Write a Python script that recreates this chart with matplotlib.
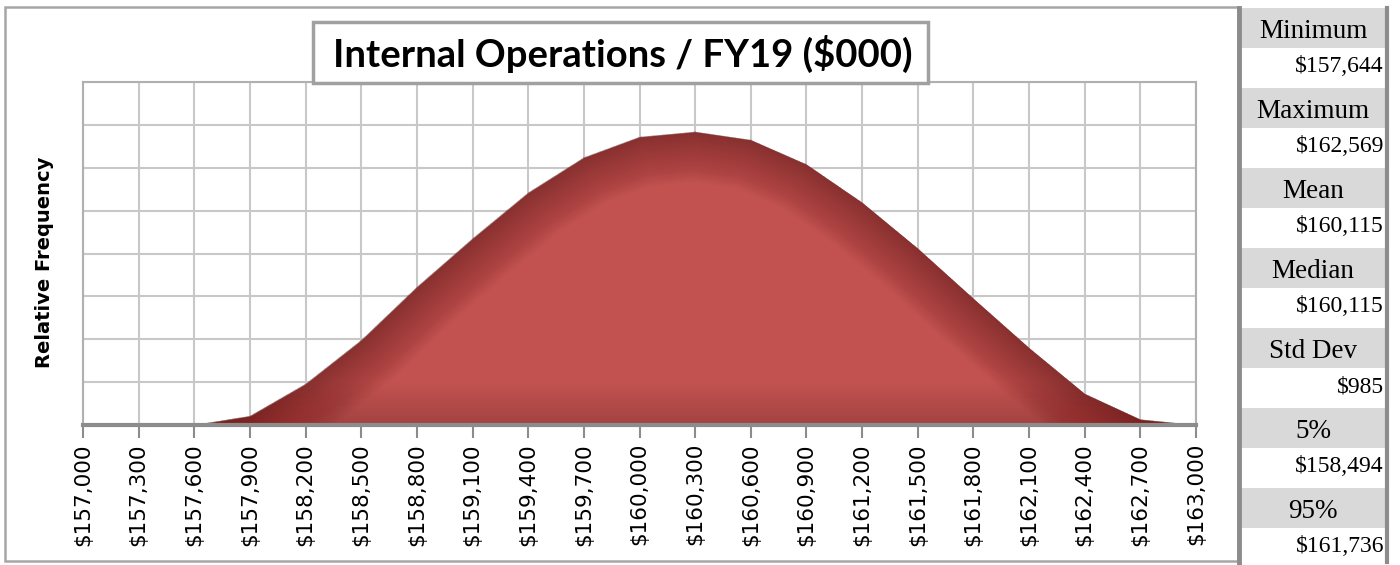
import numpy as np
import matplotlib
matplotlib.use("Agg")
import matplotlib.pyplot as plt
from matplotlib.patches import Rectangle, PathPatch
from matplotlib.path import Path

# data
bins = [157000, 157300, 157600, 157900, 158200, 158500, 158800, 159100, 159400, 159700, 160000,
        160300, 160600, 160900, 161200, 161500, 161800, 162100, 162400, 162700, 163000]
freq = [0, 0, 0, 0.21, 0.96, 1.98, 3.22, 4.35, 5.42, 6.24, 6.72,
        6.84, 6.65, 6.08, 5.19, 4.12, 2.95, 1.80, 0.73, 0.13, 0]

stat_names = ["Minimum", "Maximum", "Mean", "Median", "Std Dev", "5%", "95%"]
stat_values = ["$157,644", "$162,569", "$160,115", "$160,115", "$985", "$158,494", "$161,736"]

title = "Internal Operations / FY19 ($000)"

W, H = 1400, 565
fig = plt.figure(figsize=(14, 5.65), dpi=100)

def fx(x):
    return x / W

def fy(y):
    return 1 - y / H

ax = fig.add_axes([fx(83), fy(425), fx(1196) - fx(83), fy(82) - fy(425)])

x = np.array(bins, dtype=float)
y = np.array(freq)

ax.fill_between(x, 0, y, color="#c25250", lw=0, zorder=2)

# darker edges, like the excel shading (stacked wide strokes clipped to the area)
verts = list(zip(x, y)) + [(x[-1], 0), (x[0], 0), (x[0], y[0])]
clip = PathPatch(Path(verts), transform=ax.transData, facecolor="none", edgecolor="none")
ax.add_patch(clip)
for lw in np.linspace(2, 72, 26):
    ln, = ax.plot(x, y, color="#4a1010", lw=lw, alpha=0.021, zorder=3, solid_joinstyle="round")
    ln.set_clip_path(clip)
for lw in np.linspace(2, 60, 16):
    ln, = ax.plot([x[0], x[-1]], [0, 0], color="#4a1010", lw=lw, alpha=0.012, zorder=3)
    ln.set_clip_path(clip)

ax.set_xlim(157000, 163000)
ax.set_ylim(0, 8)
ax.set_xticks(bins)
ax.set_xticklabels(["${:,}".format(b) for b in bins], rotation=90, fontsize=15.5,
                   family="DejaVu Sans", color="#000000")
ax.set_yticks(range(0, 9))
ax.set_yticklabels([])
ax.tick_params(axis="y", length=0)
ax.tick_params(axis="x", length=9, width=1.5, color="#8c8c8c", pad=4)
ax.grid(True, color="#c8c8c8", lw=1.5, zorder=1)
ax.set_axisbelow(True)
for s in ["top", "right", "left"]:
    ax.spines[s].set_color("#b0b0b0")
    ax.spines[s].set_linewidth(1.5)
ax.spines["bottom"].set_color("#8c8c8c")
ax.spines["bottom"].set_linewidth(3)
ax.spines["bottom"].set_zorder(4)

fig.text(fx(45), fy(262), "Relative Frequency", rotation=90, ha="center", va="center",
         fontsize=14, fontweight="bold", family="DejaVu Sans")

# outer frame of the chart
fig.patches.append(Rectangle((fx(5), fy(561)), fx(1238) - fx(5), fy(7) - fy(561),
                             transform=fig.transFigure, fill=False, edgecolor="#a6a6a6", lw=1.8))

# title box
fig.patches.append(Rectangle((fx(313), fy(83)), fx(928) - fx(313), fy(22) - fy(83),
                             transform=fig.transFigure, facecolor="white", edgecolor="#a0a0a0",
                             lw=2.5, zorder=5))
fig.text(fx(623), fy(54), title, ha="center", va="center", fontsize=27.5, fontweight="bold",
         family="Lato", zorder=6)

# stats panel
for i, (nm, val) in enumerate(zip(stat_names, stat_values)):
    top = 8 + 80 * i
    fig.patches.append(Rectangle((fx(1240), fy(top + 40)), fx(1386) - fx(1240), fy(top) - fy(top + 40),
                                 transform=fig.transFigure, facecolor="#d9d9d9", edgecolor="none"))
    fig.text(fx(1313), fy(top + 24), nm, ha="center", va="center", fontsize=19.5,
             family="Liberation Serif")
    fig.text(fx(1384), fy(top + 59), val, ha="right", va="center", fontsize=17,
             family="Liberation Serif")

fig.add_artist(plt.Line2D([fx(1239), fx(1239)], [fy(8), fy(565)], transform=fig.transFigure,
                          color="#8c8c8c", lw=3.5))
fig.add_artist(plt.Line2D([fx(1387), fx(1387)], [fy(8), fy(562)], transform=fig.transFigure,
                          color="#8c8c8c", lw=3))

fig.savefig("out.png", dpi=100)
